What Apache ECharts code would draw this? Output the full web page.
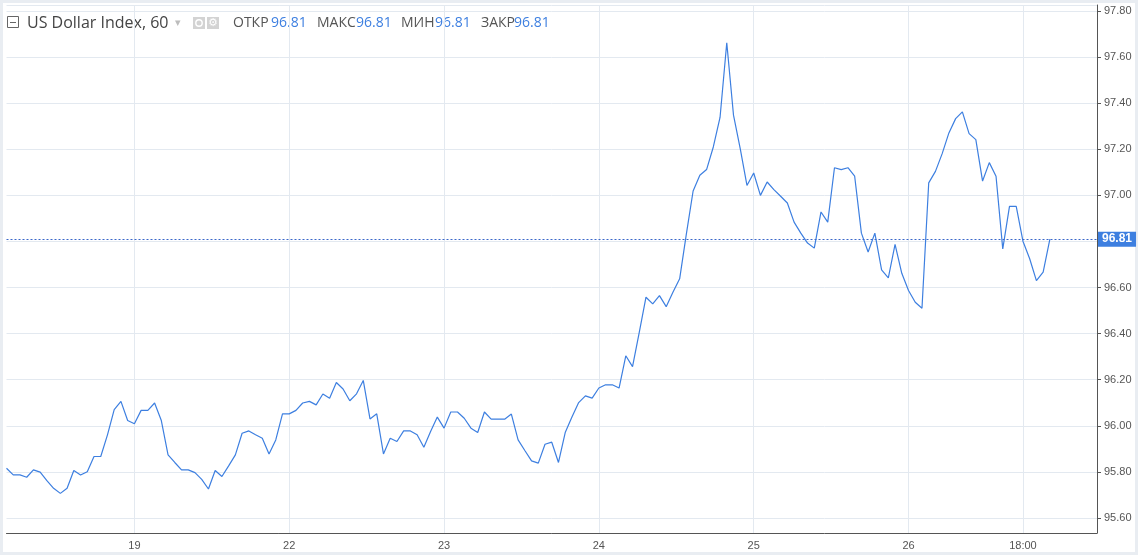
<!DOCTYPE html>
<html>
<head>
<meta charset="utf-8">
<script src="https://cdn.jsdelivr.net/npm/echarts@6/dist/echarts.min.js"></script>
<style>
html,body{margin:0;padding:0;background:#e9edf2;}
#paper{position:absolute;left:3px;top:3px;width:1132px;height:549px;background:#fff;}
#main{position:absolute;left:0;top:0;width:1138px;height:555px;}
</style>
</head>
<body>
<div id="paper"></div>
<div id="main"></div>
<script>
// hourly bars, 23 per trading day (01:00 - 23:00)
var days = ['18', '19', '22', '23', '24', '25', '26'];
var firstHour = [5, 1, 1, 1, 1, 1, 1];
var lastHour = [23, 23, 23, 23, 23, 23, 22];

var closes = [
    95.816, 95.787, 95.787, 95.777, 95.809, 95.799, 95.762, 95.729, 95.707, 95.729,
    95.806, 95.787, 95.801, 95.867, 95.867, 95.961, 96.070, 96.106, 96.023,
    96.009, 96.067, 96.067, 96.099, 96.023, 95.874, 95.841, 95.809, 95.809, 95.797,
    95.768, 95.726, 95.806, 95.780, 95.826, 95.874, 95.968, 95.978, 95.961, 95.946,
    95.878, 95.939, 96.052,
    96.052, 96.067, 96.099, 96.106, 96.091, 96.138, 96.120, 96.188, 96.160, 96.109,
    96.139, 96.197, 96.030, 96.052, 95.878, 95.946, 95.932, 95.978, 95.978, 95.961,
    95.907, 95.975, 96.038,
    95.990, 96.060, 96.060, 96.033, 95.990, 95.971, 96.060, 96.029, 96.029, 96.029,
    96.051, 95.939, 95.893, 95.848, 95.838, 95.920, 95.929, 95.841, 95.971, 96.038,
    96.101, 96.130, 96.120,
    96.164, 96.178, 96.178, 96.164, 96.304, 96.257, 96.406, 96.558, 96.529, 96.565,
    96.517, 96.580, 96.638, 96.833, 97.019, 97.087, 97.112, 97.210, 97.338, 97.662,
    97.348, 97.203, 97.043,
    97.097, 97.000, 97.058, 97.025, 96.996, 96.967, 96.884, 96.836, 96.793, 96.771,
    96.928, 96.884, 97.120, 97.112, 97.120, 97.083, 96.836, 96.754, 96.836, 96.677,
    96.642, 96.787, 96.662,
    96.587, 96.536, 96.510, 97.054, 97.104, 97.181, 97.271, 97.333, 97.362, 97.268,
    97.242, 97.062, 97.142, 97.083, 96.768, 96.952, 96.952, 96.801, 96.725, 96.630,
    96.667, 96.810
];

var tickLabels = {
    '19 01:00': '19', '22 01:00': '22', '23 01:00': '23', '24 01:00': '24',
    '25 01:00': '25', '26 01:00': '26', '26 18:00': '18:00'
};
var lastClose = 96.81;
var emptyBars = 7;

var cats = [];
for (var d = 0; d < days.length; d++) {
    for (var h = firstHour[d]; h <= lastHour[d]; h++) {
        cats.push(days[d] + ' ' + (h < 10 ? '0' + h : h) + ':00');
    }
}
for (var e = 0; e < emptyBars; e++) cats.push('');

function isTick(i, v) { return !!tickLabels[v]; }

var myChart = echarts.init(document.getElementById('main'));
var blue = '#3d7fe0';
var gridColor = '#e3e9f0';
var option = {
    animation: false,
    grid: { left: 6.5, right: 41, top: 5, bottom: 22 },
    xAxis: {
        type: 'category',
        data: cats,
        boundaryGap: false,
        axisLine: { lineStyle: { color: '#555', width: 1 } },
        axisTick: { show: false },
        axisLabel: {
            interval: isTick,
            formatter: function (v) { return tickLabels[v] || ''; },
            color: '#555',
            fontSize: 11,
            fontFamily: 'Liberation Sans',
            margin: 7
        },
        splitLine: { show: true, interval: isTick, lineStyle: { color: gridColor } }
    },
    yAxis: {
        type: 'value',
        position: 'right',
        min: 95.535,
        max: 97.826,
        splitNumber: 11,
        axisLine: { show: true, lineStyle: { color: '#555' } },
        axisTick: { show: true, length: 4, lineStyle: { color: '#555' } },
        axisLabel: {
            color: '#555',
            fontSize: 11,
            fontFamily: 'Liberation Sans',
            margin: 7,
            showMinLabel: false,
            showMaxLabel: false,
            formatter: function (v) { return v.toFixed(2); }
        },
        splitLine: { lineStyle: { color: gridColor } }
    },
    series: [{
        type: 'line',
        data: closes,
        showSymbol: false,
        lineStyle: { color: blue, width: 1.2 },
        itemStyle: { color: blue },
        markLine: {
            silent: true,
            symbol: 'none',
            lineStyle: { color: '#3a67c9', type: [2, 2], width: 1 },
            label: {
                position: 'end',
                distance: 1,
                formatter: lastClose.toFixed(2),
                backgroundColor: blue,
                color: '#fff',
                fontWeight: 'bold',
                fontSize: 12,
                fontFamily: 'Liberation Sans',
                padding: [2, 4, 1, 4]
            },
            data: [{ yAxis: lastClose }]
        }
    }],
    graphic: [
        { type: 'rect', shape: { x: 7.5, y: 16.5, width: 11, height: 11 }, style: { fill: '#fff', stroke: '#666', lineWidth: 1 } },
        { type: 'line', shape: { x1: 10, y1: 22.5, x2: 16, y2: 22.5 }, style: { stroke: '#666', lineWidth: 1 } },
        { type: 'text', x: 27, y: 23, style: { text: 'US Dollar Index, 60', fontSize: 16, fontFamily: 'Open Sans', fill: '#444', verticalAlign: 'middle' } },
        { type: 'text', x: 175, y: 23, style: { text: '▾', fontSize: 11, fontFamily: 'DejaVu Sans', fill: '#bdbdbd', verticalAlign: 'middle' } },
        { type: 'rect', shape: { x: 193, y: 17, width: 12, height: 12 }, style: { fill: '#d3d3d3' } },
        { type: 'circle', shape: { cx: 199, cy: 23, r: 3.2 }, style: { fill: 'none', stroke: '#fff', lineWidth: 1.4 } },
        { type: 'rect', shape: { x: 207, y: 17, width: 12, height: 12 }, style: { fill: '#d3d3d3' } },
        { type: 'text', x: 213, y: 23, style: { text: '⚙', fontSize: 11, fontFamily: 'DejaVu Sans', fill: '#fff', align: 'center', verticalAlign: 'middle' } },
        { type: 'text', x: 233, y: 23, style: { text: 'ОТКР', fontSize: 14, fontFamily: 'Open Sans', fill: '#555', verticalAlign: 'middle' } },
        { type: 'text', x: 271, y: 23, style: { text: '96.81', fontSize: 14, fontFamily: 'Open Sans', fill: blue, verticalAlign: 'middle' } },
        { type: 'text', x: 317, y: 23, style: { text: 'МАКС', fontSize: 14, fontFamily: 'Open Sans', fill: '#555', verticalAlign: 'middle' } },
        { type: 'text', x: 356, y: 23, style: { text: '96.81', fontSize: 14, fontFamily: 'Open Sans', fill: blue, verticalAlign: 'middle' } },
        { type: 'text', x: 401, y: 23, style: { text: 'МИН', fontSize: 14, fontFamily: 'Open Sans', fill: '#555', verticalAlign: 'middle' } },
        { type: 'text', x: 435, y: 23, style: { text: '96.81', fontSize: 14, fontFamily: 'Open Sans', fill: blue, verticalAlign: 'middle' } },
        { type: 'text', x: 481, y: 23, style: { text: 'ЗАКР', fontSize: 14, fontFamily: 'Open Sans', fill: '#555', verticalAlign: 'middle' } },
        { type: 'text', x: 514, y: 23, style: { text: '96.81', fontSize: 14, fontFamily: 'Open Sans', fill: blue, verticalAlign: 'middle' } }
    ]
};
myChart.setOption(option);
</script>
</body>
</html>
